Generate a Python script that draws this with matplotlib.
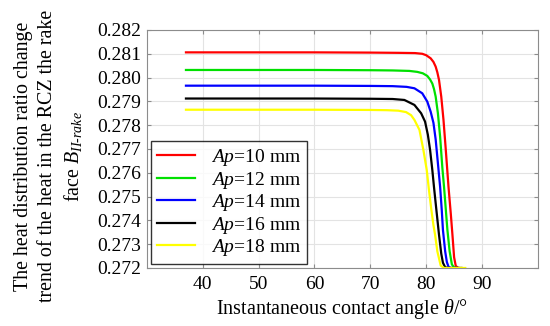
import matplotlib
matplotlib.use("Agg")
import matplotlib.pyplot as plt

plt.rcParams['font.family'] = ['Liberation Serif', 'DejaVu Serif']
plt.rcParams['mathtext.fontset'] = 'custom'
plt.rcParams['mathtext.rm'] = 'Liberation Serif'
plt.rcParams['mathtext.it'] = 'Liberation Serif:italic'

# values
x_red = [37, 50, 60, 70, 75, 78, 79.3, 80.0, 80.8, 81.3, 81.7, 82.0, 82.3, 82.7,
         83.1, 83.5, 84.0, 84.4, 84.7, 85.0, 85.3, 85.8, 86.3]
y_red = [.28106, .28106, .28106, .28105, .28104, .28103, .28100, .28094, .28081,
         .28066, .28046, .28022, .27990, .27920, .27822, .27700, .27540, .27430,
         .27340, .27245, .27208, .27200, .27200]

x_green = [37, 50, 60, 70, 74, 77, 78.4, 79.4, 80.2, 80.7, 81.1, 81.4, 81.7, 82.1,
           82.5, 82.9, 83.2, 83.5, 83.8, 84.2, 84.6, 85.0, 85.6, 86.3]
y_green = [.28032, .28032, .28032, .28031, .28030, .28028, .28024, .28018, .28007,
           .27992, .27975, .27952, .27920, .27850, .27750, .27620, .27540, .27450,
           .27360, .27270, .27215, .27202, .27200, .27200]

x_blue = [37, 50, 60, 70, 74, 76.5, 77.9, 79.3, 80.2, 80.8, 81.3, 81.7, 82.1, 82.5,
          82.8, 83.0, 83.4, 83.7, 84.0, 84.4, 85.0, 85.8]
y_blue = [.27966, .27966, .27966, .27965, .27964, .27961, .27955, .27934, .27899,
          .27857, .27810, .27740, .27640, .27540, .27440, .27360, .27270, .27225,
          .27205, .27200, .27200, .27200]

x_black = [37, 50, 60, 70, 74, 76.1, 77.9, 79.1, 79.8, 80.3, 80.7, 81.1, 81.4, 81.8,
           82.3, 82.7, 83.0, 83.4, 84.0, 84.8, 85.5]
y_black = [.27912, .27912, .27912, .27911, .27910, .27906, .27885, .27850, .27815,
           .27760, .27696, .27612, .27540, .27450, .27339, .27260, .27222, .27203,
           .27200, .27200, .27200]

x_yellow = [37, 50, 60, 70, 73, 75, 76.4, 77.3, 77.9, 78.8, 79.5, 80.1, 80.5, 80.9,
            81.3, 81.6, 82.0, 82.6, 83.2, 84.0, 85.0, 86.0, 87.0]
y_yellow = [.27865, .27865, .27865, .27864, .27863, .27861, .27855, .27842, .27822,
            .27780, .27696, .27612, .27528, .27450, .27380, .27339, .27270, .27210,
            .27200, .27200, .27200, .27200, .27200]

labels = ['$Ap$=10 mm', '$Ap$=12 mm', '$Ap$=14 mm', '$Ap$=16 mm', '$Ap$=18 mm']
colors = ['#ff0000', '#00e000', '#0000ff', '#000000', '#ffff00']

fig = plt.figure(figsize=(5.5, 3.26), dpi=100)
ax = fig.add_axes([0.267, 0.178, 0.711, 0.730])

series = [(x_red, y_red), (x_green, y_green), (x_blue, y_blue),
          (x_black, y_black), (x_yellow, y_yellow)]
for (xs, ys), c, lab in zip(series, colors, labels):
    ax.plot(xs, ys, color=c, lw=1.6, label=lab)

ax.set_xlim(30, 100)
ax.set_ylim(0.272, 0.282)
ax.set_xticks([40, 50, 60, 70, 80, 90])
ax.set_yticks([0.272 + 0.001 * i for i in range(11)])
ax.yaxis.set_major_formatter(matplotlib.ticker.FormatStrFormatter('%.3f'))
ax.grid(True, color='#e3e3e3', lw=0.8)
ax.set_axisbelow(True)
for s in ax.spines.values():
    s.set_color('#8c8c8c')
ax.tick_params(direction='in', top=True, right=True, color='#8c8c8c',
               labelsize=14, length=3)
ax.tick_params(axis='x', pad=6)
ax.tick_params(axis='y', pad=4)

ax.set_xlabel(r'Instantaneous contact angle $\theta$/°', fontsize=14.5, labelpad=3)
ax.set_ylabel('The heat distribution ratio change\n'
              'trend of the heat in the RCZ the rake\n'
              r'face $B_{II\text{-}rake}$', fontsize=14.4, linespacing=1.33)
ax.yaxis.set_label_coords(-0.16, 0.47)

leg = ax.legend(loc='lower left', fontsize=14, frameon=True, fancybox=False,
                edgecolor='black', handlelength=2.0, borderpad=0.3,
                labelspacing=0.08, handletextpad=0.8, borderaxespad=0.2)
leg.get_frame().set_linewidth(1.0)

fig.savefig('out.png', dpi=100)
